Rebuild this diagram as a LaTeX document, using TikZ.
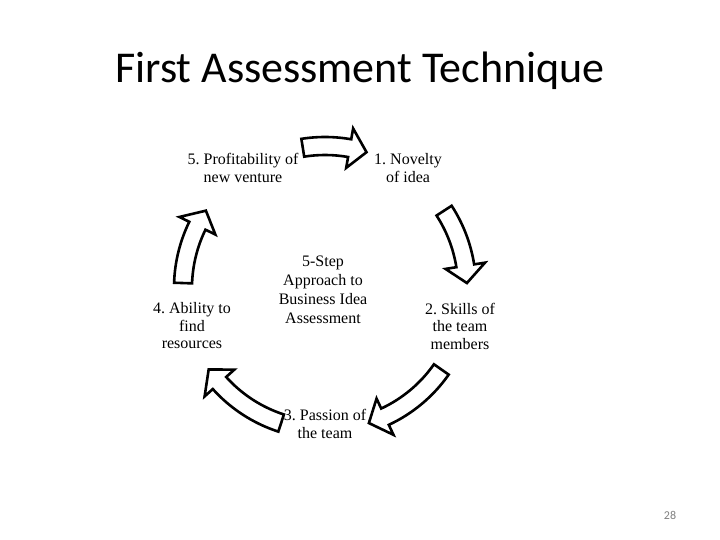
\documentclass[tikz,border=0pt]{standalone}
\usepackage{fontspec}
\setmainfont{Liberation Serif}
\newfontfamily\titlefont{Carlito}
\frenchspacing
\newcommand{\cyclearrow}[2]{%
  \pgfmathsetmacro{\headang}{#2-7}%
  \draw[blockarrow] (#1:151) arc[start angle=#1, end angle=\headang, radius=151]
    -- (\headang:162) -- (#2:142) -- (\headang:122) -- (\headang:133)
    arc[start angle=\headang, end angle=#1, radius=133] -- cycle;}
\begin{document}
\begin{tikzpicture}[x=1pt, y=-1pt]
  \tikzstyle{stage}=[align=center, inner sep=0pt, font=\fontsize{16}{17.5}\selectfont]
  \tikzstyle{blockarrow}=[draw=black, fill=white, line width=2.6pt, line join=miter]
  \useasboundingbox (0,0) rectangle (720,540);
  \node[anchor=base, font=\titlefont\fontsize{44}{48}\selectfont] (title) at (360,83) {First Assessment Technique};
  \coordinate (cyc) at (325,288);
  \begin{scope}[shift={(cyc)}]
    \cyclearrow{-99}{-73}
    \cyclearrow{-33}{-2}
    \cyclearrow{35}{72}
    \cyclearrow{108}{145}
    \cyclearrow{182}{213}
  \end{scope}
  \node[stage] (profit) at (243,168) {5. Profitability of\\new venture};
  \node[stage] (novelty) at (408,168) {1. Novelty\\of idea};
  \node[stage] (skills) at (460,326) {2. Skills of\\the team\\members};
  \node[stage] (passion) at (325,424) {3. Passion of\\the team};
  \node[stage] (ability) at (192,326) {4. Ability to\\find\\resources};
  \node[stage, font=\fontsize{16}{19}\selectfont] (hub) at (323,290) {5-Step\\Approach to\\Business Idea\\Assessment};
  \node[font=\titlefont\fontsize{12}{14}\selectfont, text=gray] (pagenum) at (670,515) {28};
\end{tikzpicture}
\end{document}
